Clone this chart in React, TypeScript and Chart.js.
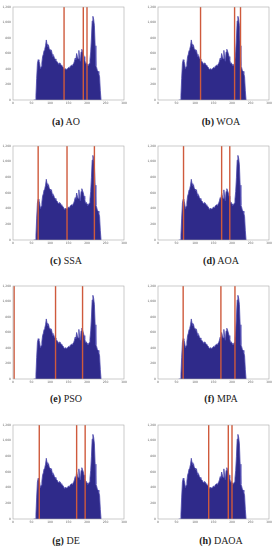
import React, { useEffect, useRef } from 'react';
import { Chart, registerables } from 'chart.js';

Chart.register(...registerables);

// Grey-level bins (intensity) and pixel counts of the histogram (same image in every panel)
const intensities = [
  56, 58, 60, 62, 64, 66, 68, 70, 72, 74, 76, 78, 80, 82, 84, 86, 88, 90, 92, 94,
  96, 98, 100, 102, 104, 106, 108, 110, 112, 114, 116, 118, 120, 122, 124, 126, 128, 130, 132, 134,
  136, 138, 140, 142, 144, 146, 148, 150, 152, 154, 156, 158, 160, 162, 164, 166, 168, 170, 172, 174,
  176, 178, 180, 182, 184, 186, 188, 190, 192, 194, 196, 198, 200, 202, 204, 206, 208, 210, 212, 214,
  216, 218, 220, 222, 224, 226, 228, 230, 232, 234, 236, 238, 240,
];
const counts = [
  0, 0, 0, 60, 280, 470, 520, 505, 470, 400, 430, 480, 560, 590, 640, 660, 700, 775, 720, 690,
  705, 660, 650, 630, 640, 590, 560, 570, 540, 530, 510, 500, 490, 470, 460, 480, 470, 450, 440, 430,
  420, 400, 390, 405, 395, 400, 410, 420, 415, 430, 440, 450, 445, 460, 470, 500, 540, 520, 600, 560,
  530, 640, 550, 500, 620, 655, 630, 600, 560, 520, 470, 480, 460, 440, 450, 470, 520, 620, 800, 1020,
  1080, 1040, 960, 700, 440, 420, 380, 370, 340, 300, 120, 0, 0,
];

const xTicks = [0, 50, 100, 150, 200, 250, 300];
const yTicks = [0, 200, 400, 600, 800, 1000, 1200];

// Threshold values found by each algorithm (red vertical lines)
const thresholdsAO = [138, 190, 200];
const thresholdsWOA = [115, 207, 223];
const thresholdsSSA = [68, 146, 220];
const thresholdsAOA = [69, 172, 194];
const thresholdsPSO = [3, 115, 188];
const thresholdsMPA = [68, 170, 208];
const thresholdsDE = [71, 172, 195];
const thresholdsDAOA = [137, 190, 200];

const letters = ['a', 'b', 'c', 'd', 'e', 'f', 'g', 'h'];
const methods = ['AO', 'WOA', 'SSA', 'AOA', 'PSO', 'MPA', 'DE', 'DAOA'];
const thresholdSets = [
  thresholdsAO, thresholdsWOA, thresholdsSSA, thresholdsAOA,
  thresholdsPSO, thresholdsMPA, thresholdsDE, thresholdsDAOA,
];

// layout
const colAreaLeft = [13, 158];
const areaWidth = 111;
const rowAreaTop = [7, 146, 286, 425];
const rowAreaBottom = [100, 240, 379, 519];
const colCaptionX = [66, 221];
const rowCaptionY = [122, 261, 399, 541];
const PAD_L = 13;
const PAD_T = 4;
const PAD_B = 8;
const PAD_R = 6;

const boxPlugin = {
  id: 'boxPlugin',
  afterDatasetsDraw(chart: any) {
    const { ctx, chartArea: a } = chart;
    ctx.save();
    ctx.strokeStyle = '#a8a8a8';
    ctx.lineWidth = 0.6;
    ctx.strokeRect(a.left, a.top, a.right - a.left, a.bottom - a.top);
    ctx.restore();
  },
};

function Panel({ index }: { index: number }) {
  const ref = useRef<HTMLCanvasElement>(null);
  const col = index % 2;
  const row = Math.floor(index / 2);
  const areaH = rowAreaBottom[row] - rowAreaTop[row];
  const W = PAD_L + areaWidth + PAD_R;
  const H = PAD_T + areaH + PAD_B;

  useEffect(() => {
    const hist = intensities.map((x, k) => ({ x, y: counts[k] }));
    const lines = thresholdSets[index].map((t) => ({
      type: 'line' as const,
      data: [
        { x: t, y: 0 },
        { x: t, y: 1200 },
      ],
      borderColor: '#cf5a3c',
      borderWidth: 1.4,
      pointRadius: 0,
      fill: false,
      order: 1,
    }));
    const tickFont = { family: 'DejaVu Sans', size: 3 };
    const chart = new Chart(ref.current!, {
      type: 'line',
      data: {
        datasets: [
          ...lines,
          {
            data: hist,
            borderColor: '#4b47ad',
            borderWidth: 0.8,
            backgroundColor: '#2f2a8a',
            pointRadius: 0,
            fill: 'origin',
            tension: 0,
            order: 2,
          } as any,
        ],
      },
      options: {
        animation: false,
        responsive: false,
        events: [],
        layout: { padding: { left: 0, top: PAD_T, right: PAD_R, bottom: 0 } },
        plugins: { legend: { display: false }, tooltip: { enabled: false } },
        scales: {
          x: {
            type: 'linear',
            min: 0,
            max: 300,
            grid: { display: false, drawTicks: false },
            border: { display: false },
            ticks: { font: tickFont, color: '#666', padding: 1.5, maxRotation: 0, autoSkip: false },
            afterBuildTicks: (s: any) => {
              s.ticks = xTicks.map((v) => ({ value: v }));
            },
            afterFit: (s: any) => {
              s.height = PAD_B;
              s.paddingLeft = 0;
              s.paddingRight = 0;
            },
          },
          y: {
            type: 'linear',
            min: 0,
            max: 1200,
            grid: { display: false, drawTicks: false },
            border: { display: false },
            ticks: { font: tickFont, color: '#666', padding: 2, autoSkip: false },
            afterBuildTicks: (s: any) => {
              s.ticks = yTicks.map((v) => ({ value: v }));
            },
            afterFit: (s: any) => {
              s.width = PAD_L;
              s.paddingTop = 0;
              s.paddingBottom = 0;
            },
          },
        },
      },
      plugins: [boxPlugin],
    });
    return () => chart.destroy();
  }, [index]);

  return (
    <>
      <canvas
        ref={ref}
        width={W}
        height={H}
        style={{
          position: 'absolute',
          left: colAreaLeft[col] - PAD_L,
          top: rowAreaTop[row] - PAD_T,
          width: W,
          height: H,
        }}
      />
      <div
        style={{
          position: 'absolute',
          left: colCaptionX[col] - 60,
          width: 120,
          top: rowCaptionY[row] - 6,
          height: 12,
          lineHeight: '12px',
          textAlign: 'center',
          fontFamily: '"Liberation Serif", "DejaVu Serif", serif',
          fontSize: 10,
          color: '#222',
          whiteSpace: 'nowrap',
        }}
      >
        <b>({letters[index]})</b> {methods[index]}
      </div>
    </>
  );
}

export default function App() {
  return (
    <div
      style={{
        position: 'absolute',
        left: 0,
        top: 0,
        width: 279,
        height: 550,
        background: '#fff',
        overflow: 'hidden',
      }}
    >
      {methods.map((_, i) => (
        <Panel key={i} index={i} />
      ))}
    </div>
  );
}
